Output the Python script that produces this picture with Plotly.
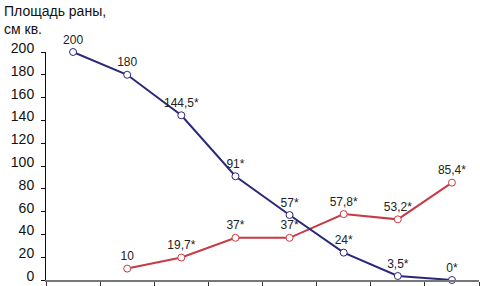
import plotly.graph_objects as go

stages = [0, 1, 2, 3, 4, 5, 6, 7]
blue_vals = [200, 180, 144.5, 91, 57, 24, 3.5, 0]
blue_labels = ["200", "180", "144,5*", "91*", "57*", "24*", "3,5*", "0*"]
red_stages = [1, 2, 3, 4, 5, 6, 7]
red_vals = [10, 19.7, 37, 37, 57.8, 53.2, 85.4]
red_labels = ["10", "19,7*", "37*", "37*", "57,8*", "53,2*", "85,4*"]
y_ticks = [0, 20, 40, 60, 80, 100, 120, 140, 160, 180, 200]

FONT = "Liberation Sans, Arial, sans-serif"
BLUE = "#2a2878"
RED = "#c83a44"

fig = go.Figure()
fig.add_trace(go.Scatter(
    x=red_stages, y=red_vals, mode="lines+markers+text", text=red_labels,
    textposition="top center", textfont=dict(family=FONT, size=12, color="#222"),
    line=dict(color=RED, width=2),
    marker=dict(size=7, color="white", line=dict(color=RED, width=1)),
    cliponaxis=False, showlegend=False))
fig.add_trace(go.Scatter(
    x=stages, y=blue_vals, mode="lines+markers+text", text=blue_labels,
    textposition="top center", textfont=dict(family=FONT, size=12, color="#222"),
    line=dict(color=BLUE, width=2),
    marker=dict(size=7, color="white", line=dict(color=BLUE, width=1)),
    cliponaxis=False, showlegend=False))

fig.update_layout(
    width=480, height=286,
    margin=dict(l=46, r=1, t=52, b=6, autoexpand=False),
    paper_bgcolor="white", plot_bgcolor="white",
    font=dict(family=FONT, color="#111"),
    xaxis=dict(range=[-0.5, 7.5], tickvals=[i - 0.5 for i in range(9)],
               showticklabels=False, ticks="outside", ticklen=6, tickwidth=1,
               tickcolor="#333", showgrid=False, zeroline=False, automargin=False,
               showline=True, linecolor="#777", linewidth=2),
    yaxis=dict(range=[0, 200], tickvals=y_ticks, ticks="outside", ticklen=4,
               tickwidth=1, tickcolor="#111", showgrid=False, zeroline=False,
               showline=True, linecolor="#111", linewidth=1, automargin=False,
               ticklabelstandoff=4, ticklabelshift=-4, ticklabeloverflow="allow",
               tickfont=dict(family=FONT, size=14, color="#111")),
    annotations=[dict(text="Площадь раны,<br>см кв.", xref="paper", yref="paper",
                      x=-0.1016, y=1.225, xanchor="left", yanchor="top",
                      align="left", showarrow=False,
                      font=dict(family=FONT, size=14, color="#111"))],
)

fig.write_html("out.html", config={"displayModeBar": False},
               post_script="document.body.style.margin='0';document.body.style.overflow='hidden';")
